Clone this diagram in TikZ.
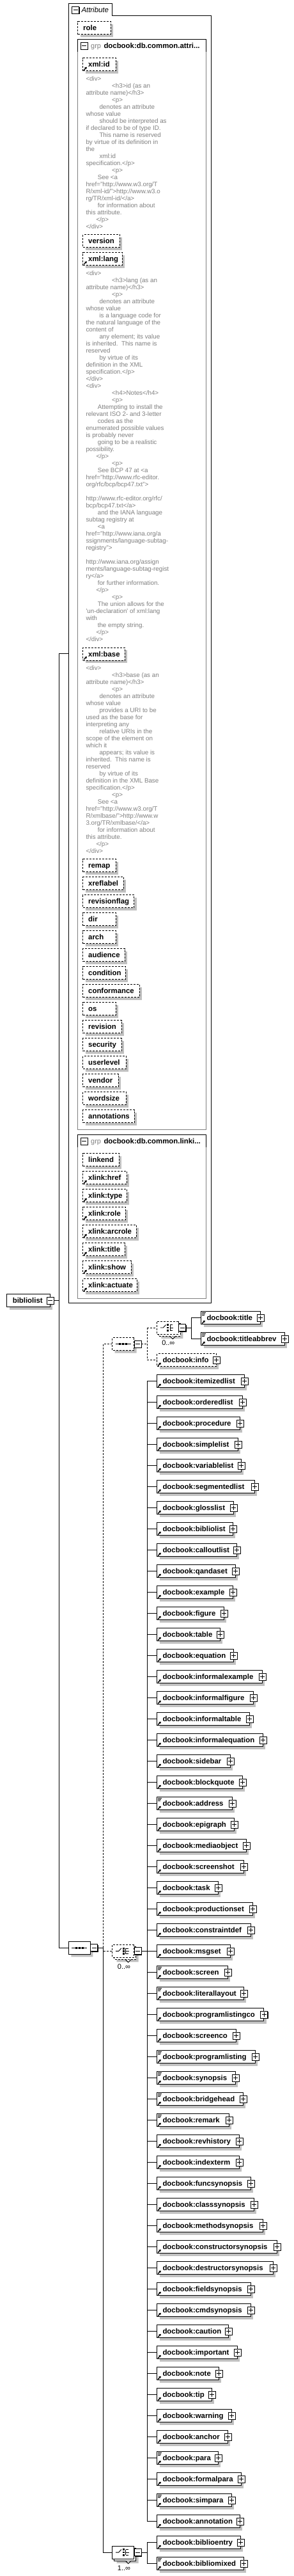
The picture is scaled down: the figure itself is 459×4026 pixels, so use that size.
\documentclass[tikz,border=0pt]{standalone}
\usepackage{fontspec}
\setmainfont{Liberation Sans}
\usetikzlibrary{positioning}
\usetikzlibrary{shapes.misc}
\usetikzlibrary{shadows}
\usetikzlibrary{arrows.meta}

\definecolor{shadowgray}{RGB}{192,192,192}
\definecolor{descgray}{RGB}{128,128,128}
\definecolor{boxgray}{RGB}{128,128,128}

\newcommand{\indA}{\hspace*{40.7pt}}
\newcommand{\indB}{\hspace*{21pt}}
\newcommand{\indC}{\hspace*{18.3pt}}
\newcommand{\indD}{\hspace*{16pt}}

% little square with + or - (#2=1 plus, 0 minus), centred on #1
\newcommand{\sqicon}[2]{%
\fill[black] ([shift={(-4.5,-4.5)}]#1) rectangle ([shift={(6.5,6.5)}]#1);
\draw[fill=white, line width=0.9pt] ([shift={(-5.5,-5.5)}]#1) rectangle ([shift={(5.5,5.5)}]#1);
\draw[line width=0.9pt] ([shift={(-3.5,0)}]#1) -- ([shift={(3.5,0)}]#1);
\ifnum#2=1 \draw[line width=0.9pt] ([shift={(0,-3.5)}]#1) -- ([shift={(0,3.5)}]#1);\fi
}
\newcommand{\refmark}[1]{%
\draw[line width=1.3pt, -{Stealth[length=3.4pt,width=4.2pt]}] ([shift={(1.8,-1.8)}]#1.south west) -- ([shift={(6.6,-6.6)}]#1.south west);
}
\newcommand{\mixmark}[1]{%
\draw[line width=0.8pt] ([shift={(1.5,2)}]#1.north west) -- ++(6,0) ([shift={(1.5,4.2)}]#1.north west) -- ++(5,0) ([shift={(1.5,6.4)}]#1.north west) -- ++(4,0);
}
\newcommand{\seqicon}[1]{%
\draw[line width=0.9pt] ([xshift=-12pt]#1.center) -- ([xshift=12pt]#1.center);
\foreach \dx in {-5,0,5} \fill ([shift={(\dx-1.4,-1.4)}]#1.center) rectangle ([shift={(\dx+1.4,1.4)}]#1.center);
}
\newcommand{\choiceicon}[1]{%
\draw[line width=0.9pt] ([shift={(-11.5,0)}]#1.center) -- ([shift={(-7,0)}]#1.center) -- ([shift={(-2.8,-4.5)}]#1.center);
\foreach \dy in {-4.2,0,4.2} \fill ([shift={(-1,\dy-1.4)}]#1.center) rectangle ([shift={(1.8,\dy+1.4)}]#1.center);
\draw[line width=0.9pt] ([shift={(4,-4.2)}]#1.center) -- ([shift={(4,4.2)}]#1.center) ([shift={(4,-4.2)}]#1.center) -- ([shift={(8,-4.2)}]#1.center) ([shift={(4,0)}]#1.center) -- ([shift={(9,0)}]#1.center) ([shift={(4,4.2)}]#1.center) -- ([shift={(8,4.2)}]#1.center);
}

\tikzset{
lbl/.style={font=\bfseries\fontsize{11.4}{13}\selectfont},
elbox/.style={draw, fill=white, anchor=north west, minimum height=20pt, inner xsep=8.7pt, inner ysep=0pt, text height=10pt, text depth=2pt, align=left, lbl, drop shadow={shadow xshift=4pt, shadow yshift=-4pt, fill=shadowgray, opacity=1}},
attrbox/.style={elbox, dash pattern=on 3pt off 2pt, inner xsep=8.4pt},
compo/.style={draw, fill=white, chamfered rectangle, chamfered rectangle xsep=5pt, chamfered rectangle ysep=5pt, minimum width=34pt, minimum height=20pt, inner sep=0pt},
cshadow/.style={drop shadow={shadow xshift=4pt, shadow yshift=-4pt, fill=shadowgray, opacity=1}},
odash/.style={dash pattern=on 3pt off 2pt},
desc/.style={anchor=north west, inner sep=0pt, align=left, text=descgray, font=\fontsize{9.8}{11}\selectfont},
mult/.style={inner sep=0pt, font=\fontsize{11}{13}\selectfont},
}

\begin{document}
\begin{tikzpicture}[x=1pt, y=-1pt, line width=1pt]

\useasboundingbox[fill=white] (0,0) rectangle (459,4026);

% attribute frame
\draw (107.3,2036) -- (107.3,5.3) -- (175.7,5.3) -- (175.7,24.3) -- (330.3,24.3) -- (330.3,2036) -- cycle;
\coordinate (attrm) at (118.2,15.5);
\sqicon{attrm}{0}
\node[anchor=base west, inner sep=0pt, font=\itshape\fontsize{11.4}{13}\selectfont] (attrlbl) at (127,19.5) {Attribute};

\node[attrbox, text width=34.6pt] (role) at (121.3,33.3) {role};

% group db.common.attributes
\draw (121.3,81) -- (121.3,61.3) -- (322.7,61.3) -- (322.7,81);
\draw[boxgray] (121.3,81) -- (121.3,1765) -- (322.7,1765) -- (322.7,81);
\coordinate (g1m) at (131.8,71.5);
\sqicon{g1m}{0}
\node[anchor=base west, inner sep=0pt, text=descgray, font=\fontsize{11}{13}\selectfont] (g1grp) at (141.7,75.5) {grp};
\node[anchor=base west, inner sep=0pt, lbl] (g1name) at (162,75.5) {docbook:db.common.attri...};

\node[attrbox, text width=34.6pt] (xid) at (129.3,90.3) {\mbox{xml:id}};
\refmark{xid}
\node[desc] (xiddesc) at (134,117.7) {\rule{0pt}{8.5pt}<div>\\
\indA<h3>id (as an\\
attribute name)</h3>\\
\indA<p>\\
\indB denotes an attribute\\
whose value\\
\indB should be interpreted as\\
if declared to be of type ID.\\
\indB This name is reserved\\
by virtue of its definition in\\
the\\
\indB xml:id\\
specification.</p>\\
\indA<p>\\
\indC See <a\\
href="http://www.w3.org/T\\
R/xml-id/">http://www.w3.o\\
rg/TR/xml-id/</a>\\
\indC for information about\\
this attribute.\\
\indD</p>\\
</div>};

\node[attrbox, text width=40.6pt] (ver) at (129.3,366) {version};
\node[attrbox, text width=44.6pt] (xlang) at (129.3,394) {\mbox{xml:lang}};
\refmark{xlang}
\node[desc] (xlangdesc) at (134,421.7) {\rule{0pt}{8.5pt}<div>\\
\indA<h3>lang (as an\\
attribute name)</h3>\\
\indA<p>\\
\indB denotes an attribute\\
whose value\\
\indB is a language code for\\
the natural language of the\\
content of\\
\indB any element; its value\\
is inherited.\ \ This name is\\
reserved\\
\indB by virtue of its\\
definition in the XML\\
specification.</p>\\
</div>\\
<div>\\
\indA<h4>Notes</h4>\\
\indA<p>\\
\indC Attempting to install the\\
relevant ISO 2- and 3-letter\\
\indC codes as the\\
enumerated possible values\\
is probably never\\
\indC going to be a realistic\\
possibility.\\
\indD</p>\\
\indA<p>\\
\indC See BCP 47 at <a\\
href="http://www.rfc-editor.\\
org/rfc/bcp/bcp47.txt">\\
\mbox{}\\
http://www.rfc-editor.org/rfc/\\
bcp/bcp47.txt</a>\\
\indC and the IANA language\\
subtag registry at\\
\indC<a\\
href="http://www.iana.org/a\\
ssignments/language-subtag-\\
registry">\\
\mbox{}\\
http://www.iana.org/assign\\
ments/language-subtag-regist\\
ry</a>\\
\indC for further information.\\
\indD</p>\\
\indA<p>\\
\indC The union allows for the\\
\textquotesingle un-declaration\textquotesingle{} of xml:lang\\
with\\
\indC the empty string.\\
\indD</p>\\
</div>};

\node[attrbox, text width=48.6pt] (xbase) at (129.3,1011.7) {\mbox{xml:base}};
\refmark{xbase}
\node[desc] (xbasedesc) at (134,1038.3) {\rule{0pt}{8.5pt}<div>\\
\indA<h3>base (as an\\
attribute name)</h3>\\
\indA<p>\\
\indB denotes an attribute\\
whose value\\
\indB provides a URI to be\\
used as the base for\\
interpreting any\\
\indB relative URIs in the\\
scope of the element on\\
which it\\
\indB appears; its value is\\
inherited.\ \ This name is\\
reserved\\
\indB by virtue of its\\
definition in the XML Base\\
specification.</p>\\
\indA<p>\\
\indC See <a\\
href="http://www.w3.org/T\\
R/xmlbase/">http://www.w\\
3.org/TR/xmlbase/</a>\\
\indC for information about\\
this attribute.\\
\indD</p>\\
</div>};

\foreach \nm/\rx [count=\i from 0] in {remap/180.7,xreflabel/192.7,revisionflag/209.3,dir/180.7,arch/180.7,audience/194.7,condition/195.7,conformance/217.7,os/180.7,revision/189.7,security/189.7,userlevel/196.7,vendor/184.7,wordsize/196.7,annotations/209.7}{
\pgfmathsetmacro\tw{\rx-129.3-16.8}
\node[attrbox, text width=\tw pt] (ca\i) at (129.3,1342.3+28*\i) {\mbox{\nm}};
}

% group db.common.linking.attributes
\draw (121.3,1793) -- (121.3,1773.3) -- (322.7,1773.3) -- (322.7,1793);
\draw[boxgray] (121.3,1793) -- (121.3,2029.3) -- (322.7,2029.3) -- (322.7,1793);
\coordinate (g2m) at (131.8,1783.8);
\sqicon{g2m}{0}
\node[anchor=base west, inner sep=0pt, text=descgray, font=\fontsize{11}{13}\selectfont] (g2grp) at (141.7,1787.8) {grp};
\node[anchor=base west, inner sep=0pt, lbl] (g2name) at (162,1787.8) {docbook:db.common.linki...};

\foreach \nm/\rx/\rf [count=\i from 0] in {linkend/185.7/0,xlink:href/197.7/1,xlink:type/197.7/1,xlink:role/195.7/1,xlink:arcrole/212.7/1,xlink:title/194.7/1,xlink:show/204.7/1,xlink:actuate/213.7/1}{
\pgfmathsetmacro\tw{\rx-129.3-16.8}
\node[attrbox, text width=\tw pt] (lk\i) at (129.3,1802.3+28*\i) {\mbox{\nm}};
\ifnum\rf=1 \refmark{lk\i}\fi
}

% root element and trunk
\node[elbox, inner xsep=9pt, text width=49.4pt] (bl) at (10.3,2022.3) {bibliolist};
\sqicon{bl.east}{0}
\coordinate (trunk) at (92.3,0);
\coordinate (attrin) at (107.3,1021);

\node[compo, cshadow] (seq) at (124.3,3044.3) {};
\seqicon{seq}
\coordinate (seqm) at ([xshift=5.5pt]seq.east);
\sqicon{seqm}{0}

\draw ([xshift=5.5pt]bl.east) -- (trunk |- bl.east);
\draw (attrin) -- (trunk |- attrin) -- (trunk |- seq.west) -- (seq.west);

% sequence children
\coordinate (sv) at (161.7,0);
\node[compo, odash, cshadow] (oseq) at (192.7,2100.5) {};
\seqicon{oseq}
\coordinate (oseqm) at ([xshift=5.5pt]oseq.east);
\sqicon{oseqm}{0}

\node[compo, odash, cshadow] (mchb) at (195.7,3052.3) {};
\draw[fill=white] ([xshift=1pt]mchb.south) -- ++(4,4) -- ++(4,-4);
\node[compo, odash] (mch) at (192.7,3049.3) {};
\choiceicon{mch}
\coordinate (mchm) at ([xshift=5.5pt]mch.east);
\sqicon{mchm}{0}
\node[mult] (mchl) at (194,3073.3) {0..∞};

\node[compo, cshadow] (bchb) at (195.7,3992) {};
\draw[fill=white] ([xshift=1pt]bchb.south) -- ++(4,4) -- ++(4,-4);
\node[compo] (bch) at (192.7,3989) {};
\choiceicon{bch}
\coordinate (bchm) at ([xshift=5.5pt]bch.east);
\sqicon{bchm}{0}
\node[mult] (bchl) at (194,4013.3) {1..∞};

\draw ([xshift=11pt]seq.east) -- (sv |- seq.east);
\draw[odash] (sv |- seq.east) -- (sv |- oseq.west) -- (oseq.west);
\draw[odash] (sv |- mch.west) -- (mch.west);
\draw (sv |- seq.east) -- (sv |- bch.west) -- (bch.west);

% optional sequence: title choice and info
\coordinate (ov) at (230.3,0);
\node[compo, cshadow, odash] (tchb) at (265.3,2078) {};
\draw[fill=white] ([xshift=1pt]tchb.south) -- ++(4,4) -- ++(4,-4);
\node[compo, odash] (tch) at (262.3,2075) {};
\choiceicon{tch}
\coordinate (tchm) at ([xshift=5.5pt]tch.east);
\sqicon{tchm}{0}
\node[mult] (tchl) at (263.3,2098.3) {0..∞};

\node[attrbox, inner xsep=8.7pt, text width=75pt] (info) at (245.3,2115.3) {\mbox{docbook:info}};
\refmark{info}
\sqicon{info.east}{1}

\draw[odash] ([xshift=11pt]oseq.east) -- (ov |- oseq.east);
\draw[odash] (ov |- tch.west) -- (tch.west);
\draw[odash] (ov |- tch.west) -- (ov |- info.west) -- (info.west);

\coordinate (tv) at (299.3,0);
\node[elbox, text width=75pt] (ti) at (314.3,2049.3) {\mbox{docbook:title}};
\refmark{ti}
\mixmark{ti}
\sqicon{ti.east}{1}
\node[elbox, text width=113pt] (ta) at (314.3,2082.3) {\mbox{docbook:titleabbrev}};
\refmark{ta}
\mixmark{ta}
\sqicon{ta.east}{1}
\draw ([xshift=11pt]tch.east) -- (tv |- tch.east);
\draw (tv |- ti.west) -- (tv |- ta.west);
\draw (tv |- ti.west) -- (ti.west);
\draw (tv |- ta.west) -- (ta.west);

% the big choice
\coordinate (cv) at (230.3,0);
\foreach \nm/\rx/\mx [count=\i from 0] in {itemizedlist/381.7/0,orderedlist/378.7/0,procedure/374.7/0,simplelist/371.7/0,variablelist/376.7/0,segmentedlist/397.7/0,glosslist/364.7/0,bibliolist/363.7/0,calloutlist/369.7/0,qandaset/367.7/0,example/363.7/0,figure/349.7/0,table/343.7/0,equation/364.7/0,informalexample/409.7/0,informalfigure/395.7/0,informaltable/389.7/0,informalequation/410.7/0,sidebar/359.7/0,blockquote/378.7/0,address/362.7/1,epigraph/365.7/0,mediaobject/384.7/0,screenshot/380.7/0,task/340.7/0,productionset/394.7/0,constraintdef/391.7/0,msgset/359.7/0,screen/355.7/1,literallayout/380.7/1,programlistingco/412/0,screenco/368.7/0,programlisting/398.7/1,synopsis/367.7/1,bridgehead/379.7/1,remark/357.7/1,revhistory/373.7/0,indexterm/373.7/0,funcsynopsis/391.7/0,classsynopsis/396.7/0,methodsynopsis/410.7/0,constructorsynopsis/432.7/0,destructorsynopsis/426.7/0,fieldsynopsis/391.7/0,cmdsynopsis/391.7/0,caution/356.7/0,important/370.7/0,note/341.7/0,tip/330.7/0,warning/361.7/0,anchor/355.7/0,para/340.7/1,formalpara/376.7/0,simpara/361.7/1,annotation/374.7/0}{
\pgfmathsetmacro\tw{\rx-245.3-17.4}
\node[elbox, text width=\tw pt] (e\i) at (245.3,2148.3+33*\i) {\mbox{docbook:\nm}};
\draw (cv |- e\i.west) -- (e\i.west);
\refmark{e\i}
\ifnum\mx=1 \mixmark{e\i}\fi
\sqicon{e\i.east}{1}
}
\draw (cv |- e0.west) -- (cv |- e54.west);
\draw ([xshift=11pt]mch.east) -- (cv |- mch.east);

% last choice
\node[elbox, text width=113pt] (be) at (245.3,3963.3) {\mbox{docbook:biblioentry}};
\refmark{be}
\sqicon{be.east}{1}
\node[elbox, text width=118pt] (bm) at (245.3,3996.3) {\mbox{docbook:bibliomixed}};
\refmark{bm}
\mixmark{bm}
\sqicon{bm.east}{1}
\draw ([xshift=11pt]bch.east) -- (cv |- bch.east);
\draw (cv |- be.west) -- (cv |- bm.west);
\draw (cv |- be.west) -- (be.west);
\draw (cv |- bm.west) -- (bm.west);

\end{tikzpicture}
\end{document}
